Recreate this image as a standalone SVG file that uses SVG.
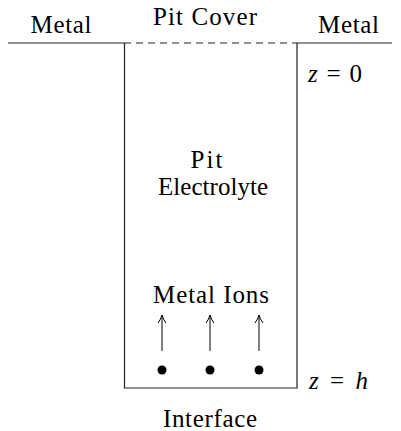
<svg xmlns="http://www.w3.org/2000/svg" width="401" height="431" viewBox="0 0 401 431">
<style>
text{font-family:'Liberation Serif','DejaVu Serif',serif;font-size:25px;fill:#000;text-anchor:middle}
.l{stroke:#222;stroke-width:1.2;fill:none}
.it{font-style:italic}
</style>
<defs>
<marker id="ah" viewBox="0 0 10 10" refX="9" refY="5" markerWidth="10" markerHeight="10" markerUnits="userSpaceOnUse" orient="auto">
<path d="M1,1 Q5,4 9,5 Q5,6 1,9" fill="none" stroke="#000" stroke-width="1"/>
</marker>
</defs>
<rect width="401" height="431" fill="#fff"/>
<g id="metal-left"><line class="l" x1="8" y1="43" x2="124" y2="43"/><text x="61" y="33" textLength="61" lengthAdjust="spacing">Metal</text></g>
<g id="metal-right"><line class="l" x1="297" y1="43" x2="392" y2="43"/><text x="348.5" y="33" textLength="61" lengthAdjust="spacing">Metal</text></g>
<g id="pit-cover"><line class="l" x1="124" y1="43" x2="297" y2="43" stroke-dasharray="7 5"/><text x="205" y="25" textLength="104" lengthAdjust="spacing">Pit Cover</text></g>
<g id="pit"><path class="l" d="M124.5,43 V388 H297 V43"/>
<text x="206.5" y="168" textLength="32" lengthAdjust="spacing">Pit</text><text x="213" y="195" textLength="110" lengthAdjust="spacing">Electrolyte</text></g>
<g id="ions"><text x="211" y="303" textLength="116" lengthAdjust="spacing">Metal Ions</text>
<circle cx="162" cy="370" r="4.5"/><circle cx="210" cy="370" r="4.5"/><circle cx="259" cy="370" r="4.5"/></g>
<g id="connectors">
<line x1="162" y1="351" x2="162" y2="315" stroke="#000" stroke-width="1" marker-end="url(#ah)"/>
<line x1="210" y1="351" x2="210" y2="315" stroke="#000" stroke-width="1" marker-end="url(#ah)"/>
<line x1="259" y1="351" x2="259" y2="315" stroke="#000" stroke-width="1" marker-end="url(#ah)"/>
</g>
<g id="labels">
<text x="308" y="82" style="text-anchor:start" textLength="54" lengthAdjust="spacing"><tspan class="it">z</tspan> = 0</text>
<text x="309" y="389" style="text-anchor:start" textLength="59" lengthAdjust="spacing"><tspan class="it">z</tspan> = <tspan class="it">h</tspan></text>
<text x="210" y="427" textLength="94" lengthAdjust="spacing">Interface</text>
</g>
</svg>
